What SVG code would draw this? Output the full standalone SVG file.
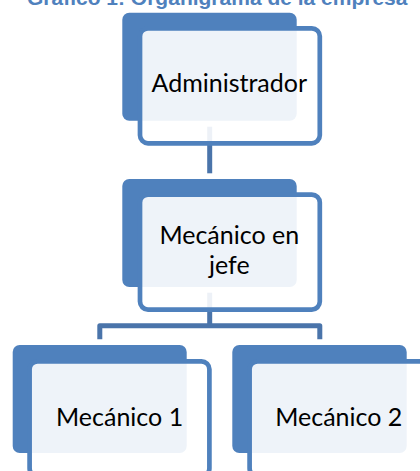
<svg xmlns="http://www.w3.org/2000/svg" width="420" height="471" viewBox="0 0 420 471">
  <style>
    .back { fill: #4F81BD; }
    .front { fill: #FFFFFF; fill-opacity: 0.9; stroke: #4F81BD; stroke-width: 4.7; }
    .conn { fill: none; stroke: #4A74AA; stroke-width: 5; stroke-linejoin: round; }
    .lbl { font-family: Lato, "Liberation Sans", sans-serif; font-size: 25px; fill: #000000; text-anchor: middle; }
    .title { font-family: "Liberation Sans", Arial, sans-serif; font-weight: bold; font-size: 21px; fill: #4F81BD; }
  </style>
  <rect width="420" height="471" fill="#FFFFFF"/>
  <text class="title" x="27" y="5">Gráfico 1: Organigrama de la empresa</text>
  <g id="connectors">
    <path class="conn" d="M209.7,126.7 V173.3"/>
    <path class="conn" d="M209.7,292.7 V325.8"/>
    <path class="conn" d="M99.8,339.3 V325.8 H319.8 V339.3"/>
  </g>
  <g id="node-administrador">
    <rect class="back" x="122.3" y="12.7" width="174.4" height="108" rx="7"/>
    <rect class="front" x="140" y="28.3" width="179.8" height="115" rx="8"/>
    <text class="lbl" x="229.3" y="92.3">Administrador</text>
  </g>
  <g id="node-mecanico-jefe">
    <rect class="back" x="122.3" y="179" width="174.4" height="108" rx="7"/>
    <rect class="front" x="140" y="194.6" width="179.8" height="115" rx="8"/>
    <text class="lbl" x="229.3" y="244">Mecánico en</text>
    <text class="lbl" x="229.3" y="274">jefe</text>
  </g>
  <g id="node-mecanico-1">
    <rect class="back" x="12.7" y="345" width="174" height="108" rx="7"/>
    <rect class="front" x="29.6" y="361.3" width="179.8" height="115" rx="8"/>
    <text class="lbl" x="119.6" y="425.7">Mecánico 1</text>
  </g>
  <g id="node-mecanico-2">
    <rect class="back" x="232.3" y="345" width="174.4" height="108" rx="7"/>
    <rect class="front" x="249.6" y="361.3" width="179.8" height="115" rx="8"/>
    <text class="lbl" x="338.8" y="425.7">Mecánico 2</text>
  </g>
</svg>
